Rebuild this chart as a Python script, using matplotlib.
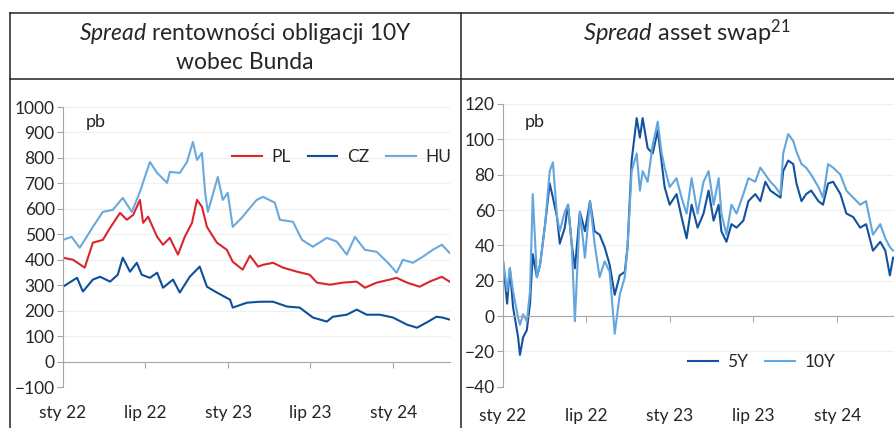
import matplotlib
matplotlib.use('Agg')
import matplotlib.pyplot as plt
from matplotlib.lines import Line2D
import pandas as pd

plt.rcParams['font.family'] = ['Lato', 'DejaVu Sans']
plt.rcParams['mathtext.fontset'] = 'custom'
plt.rcParams['mathtext.it'] = 'Lato:italic'
plt.rcParams['mathtext.rm'] = 'Lato'

# --- dane: spread 10Y wobec Bunda (pb) ---
daty_hu = ['2022-01-01', '2022-01-20', '2022-02-07', '2022-03-08', '2022-03-30', '2022-04-21',
           '2022-05-13', '2022-06-02', '2022-06-20', '2022-07-12', '2022-07-28', '2022-08-19',
           '2022-08-25', '2022-09-16', '2022-10-02', '2022-10-15', '2022-10-24', '2022-11-04',
           '2022-11-11', '2022-11-17', '2022-12-09', '2022-12-20', '2022-12-31', '2023-01-11',
           '2023-01-31', '2023-02-18', '2023-03-05', '2023-03-19', '2023-04-14', '2023-04-25',
           '2023-05-24', '2023-06-13', '2023-07-07', '2023-08-07', '2023-08-29', '2023-09-20',
           '2023-10-08', '2023-10-30', '2023-11-25', '2023-12-20', '2024-01-08', '2024-01-22',
           '2024-02-13', '2024-03-06', '2024-03-28', '2024-04-17', '2024-05-04']
hu = [478, 490, 447, 529, 588, 596, 643, 588, 667, 784, 741, 702, 745, 741, 784, 863, 792, 820,
      663, 588, 725, 635, 663, 529, 565, 604, 635, 647, 624, 557, 549, 478, 451, 486, 471, 420,
      490, 439, 431, 388, 349, 400, 388, 412, 439, 459, 427]

daty_pl = ['2022-01-01', '2022-01-23', '2022-02-18', '2022-03-08', '2022-03-30', '2022-04-15',
           '2022-05-07', '2022-05-22', '2022-06-05', '2022-06-20', '2022-06-27', '2022-07-08',
           '2022-07-28', '2022-08-10', '2022-08-25', '2022-09-12', '2022-09-27', '2022-10-13',
           '2022-10-24', '2022-11-04', '2022-11-15', '2022-12-07', '2022-12-29', '2023-01-11',
           '2023-02-02', '2023-02-18', '2023-03-08', '2023-03-19', '2023-04-10', '2023-05-02',
           '2023-06-02', '2023-06-30', '2023-07-16', '2023-08-14', '2023-09-11', '2023-10-12',
           '2023-10-30', '2023-11-25', '2023-12-24', '2024-01-08', '2024-01-31', '2024-02-28',
           '2024-03-21', '2024-04-17', '2024-05-04']
pl = [408, 400, 369, 467, 478, 525, 584, 557, 576, 635, 545, 569, 490, 459, 486, 420, 490, 545,
      635, 608, 529, 467, 439, 392, 361, 416, 373, 380, 388, 369, 353, 341, 310, 302, 310, 314,
      290, 310, 322, 329, 310, 294, 314, 333, 314]

daty_cz = ['2022-01-01', '2022-02-01', '2022-02-14', '2022-03-08', '2022-03-24', '2022-04-15',
           '2022-05-02', '2022-05-13', '2022-05-29', '2022-06-13', '2022-06-24', '2022-07-12',
           '2022-07-28', '2022-08-10', '2022-09-01', '2022-09-16', '2022-10-08', '2022-10-30',
           '2022-11-15', '2022-12-07', '2023-01-05', '2023-01-11', '2023-02-11', '2023-03-12',
           '2023-04-10', '2023-05-11', '2023-06-08', '2023-07-07', '2023-08-07', '2023-08-20',
           '2023-09-20', '2023-10-12', '2023-11-03', '2023-12-02', '2023-12-31', '2024-01-31',
           '2024-02-22', '2024-03-14', '2024-04-05', '2024-04-18', '2024-05-04']
cz = [294, 329, 275, 322, 333, 314, 341, 408, 353, 388, 341, 329, 349, 290, 322, 271, 333, 373,
      294, 271, 243, 212, 231, 235, 235, 216, 212, 173, 157, 176, 184, 204, 184, 184, 173, 145,
      133, 153, 176, 173, 165]

# --- dane: spread asset swap (pb) ---
daty_asw = ['2022-01-01', '2022-01-10', '2022-01-16', '2022-01-23', '2022-02-03', '2022-02-07',
            '2022-02-14', '2022-02-22', '2022-03-01', '2022-03-07', '2022-03-16', '2022-03-23',
            '2022-04-03', '2022-04-13', '2022-04-20', '2022-04-29', '2022-05-05', '2022-05-16',
            '2022-05-23', '2022-05-31', '2022-06-07', '2022-06-18', '2022-06-29', '2022-07-10',
            '2022-07-20', '2022-07-31', '2022-08-11', '2022-08-22', '2022-09-02', '2022-09-13',
            '2022-09-24', '2022-09-30', '2022-10-09', '2022-10-20', '2022-10-27', '2022-11-02',
            '2022-11-13', '2022-11-24', '2022-12-05', '2022-12-13', '2022-12-20', '2022-12-31',
            '2023-01-15', '2023-01-26', '2023-02-06', '2023-02-17', '2023-03-02', '2023-03-15',
            '2023-03-26', '2023-04-06', '2023-04-17', '2023-04-23', '2023-05-04', '2023-05-15',
            '2023-05-26', '2023-06-10', '2023-06-21', '2023-07-06', '2023-07-17', '2023-07-28',
            '2023-08-08', '2023-08-19', '2023-08-30', '2023-09-05', '2023-09-16', '2023-09-27',
            '2023-10-04', '2023-10-15', '2023-10-25', '2023-11-05', '2023-11-21', '2023-12-01',
            '2023-12-12', '2023-12-23', '2024-01-08', '2024-01-21', '2024-02-05', '2024-02-20',
            '2024-03-04', '2024-03-19', '2024-04-04', '2024-04-15', '2024-04-25', '2024-05-02']
asw_5y = [31, 7, 27, 5, -12, -22, -12, -8, 7, 35, 22, 29, 52, 75, 67, 56, 41, 50, 63, 41,
          27, 59, 48, 65, 48, 46, 39, 29, 12, 23, 25, 39, 88, 112, 101, 112, 95, 92, 105, 88,
          73, 63, 69, 56, 44, 63, 50, 58, 71, 54, 63, 48, 42, 52, 50, 54, 65, 69, 65, 76,
          71, 69, 67, 82, 88, 86, 75, 65, 69, 71, 65, 63, 75, 76, 69, 58, 56, 50, 52, 37,
          42, 37, 23, 33]
asw_10y = [32, 14, 27, 14, -1, -5, 1, -3, 14, 69, 22, 29, 52, 82, 87, 56, 48, 59, 63, 41,
           -3, 59, 33, 65, 41, 22, 31, 25, -10, 12, 22, 39, 82, 92, 71, 82, 76, 97, 110, 93,
           84, 73, 78, 67, 58, 78, 58, 76, 82, 63, 78, 58, 46, 63, 58, 69, 78, 76, 84, 80,
           76, 73, 69, 92, 103, 99, 93, 86, 84, 80, 73, 67, 86, 84, 80, 71, 67, 63, 65, 46,
           52, 44, 39, 37]

kolor_pl = '#d9262e'
kolor_cz = '#0f4f9a'
kolor_hu = '#6aa9de'
kolor_5y = '#14529f'
kolor_10y = '#63a5dd'
kolor_osi = '#a6a6a6'
kolor_tekst = '#262626'

W, H = 894, 428
fig = plt.figure(figsize=(W / 100, H / 100), dpi=100)


def px(x0, y0, x1, y1):
    # prostokat w pikselach -> wspolrzedne figury
    return [x0 / W, 1 - y1 / H, (x1 - x0) / W, (y1 - y0) / H]


def styl_osi(ax, ymin, ymax, krok, pad_x):
    for s in ['top', 'right']:
        ax.spines[s].set_visible(False)
    ax.spines['left'].set_color(kolor_osi)
    ax.spines['bottom'].set_color(kolor_osi)
    ax.spines['bottom'].set_position(('data', 0))
    ax.set_ylim(ymin, ymax)
    ax.set_yticks(range(ymin, ymax + 1, krok))
    ax.grid(axis='y', color='#f0f0f0', linewidth=0.8)
    ax.set_axisbelow(True)
    ax.tick_params(axis='y', colors=kolor_osi, labelcolor=kolor_tekst, labelsize=12.5,
                   length=4, pad=2)
    ax.tick_params(axis='x', colors=kolor_osi, labelcolor=kolor_tekst, labelsize=12.5,
                   length=4, direction='out', pad=pad_x)
    ax.set_xticks(pd.to_datetime(['2022-01-01', '2022-07-01', '2023-01-01', '2023-07-01', '2024-01-01']))
    ax.set_xticklabels(['sty 22', 'lip 22', 'sty 23', 'lip 23', 'sty 24'])


leg_kw = dict(frameon=False, fontsize=12.5, handlelength=1.7, handletextpad=0.55,
              columnspacing=1.0, borderpad=0, borderaxespad=0, labelcolor=kolor_tekst)

# lewy wykres
ax1 = fig.add_axes(px(63, 107, 450, 387))
ax1.plot(pd.to_datetime(daty_pl), pl, color=kolor_pl, lw=1.5, label='PL')
ax1.plot(pd.to_datetime(daty_cz), cz, color=kolor_cz, lw=1.5, label='CZ')
ax1.plot(pd.to_datetime(daty_hu), hu, color=kolor_hu, lw=1.5, label='HU')
styl_osi(ax1, -100, 1000, 100, 27)
ax1.set_xlim(pd.Timestamp('2022-01-01'), pd.Timestamp('2024-05-05'))
ax1.text(0.06, 0.945, 'pb', transform=ax1.transAxes, fontsize=13, color=kolor_tekst, va='center')
ax1.legend(loc='center left', bbox_to_anchor=((232 - 63) / 387, (387 - 157) / 280), ncol=3, **leg_kw)

# prawy wykres
ax2 = fig.add_axes(px(503, 104, 894, 386.7))
ax2.plot(pd.to_datetime(daty_asw), asw_5y, color=kolor_5y, lw=1.5, label='5Y')
ax2.plot(pd.to_datetime(daty_asw), asw_10y, color=kolor_10y, lw=1.5, label='10Y')
styl_osi(ax2, -40, 120, 20, 62)
ax2.set_xlim(pd.Timestamp('2022-01-01'), pd.Timestamp('2024-05-04'))
ax2.text(0.055, 0.935, 'pb', transform=ax2.transAxes, fontsize=13, color=kolor_tekst, va='center')
ax2.legend(loc='center left', bbox_to_anchor=((688 - 503) / 391, (386.7 - 362) / 282.7), ncol=2,
           **leg_kw)

# ramki i tytuly
for (x0, y0, x1, y1) in [(10, 13, 894, 13), (10, 79, 894, 79), (10, 13, 10, 428), (461, 13, 461, 428)]:
    fig.add_artist(Line2D([x0 / W, x1 / W], [1 - y0 / H, 1 - y1 / H], color='#222222', lw=1.1,
                          transform=fig.transFigure))

fig.text(245 / W, 1 - 47 / H, '$\\mathit{Spread}$ rentowności obligacji 10Y\nwobec Bunda',
         ha='center', va='center', fontsize=16.5, color=kolor_tekst, linespacing=1.3)
fig.text(687 / W, 1 - 33 / H, '$\\mathit{Spread}$ asset swap$^{21}$', ha='center', va='center',
         fontsize=17, color=kolor_tekst)

fig.savefig('out.png', dpi=100)
